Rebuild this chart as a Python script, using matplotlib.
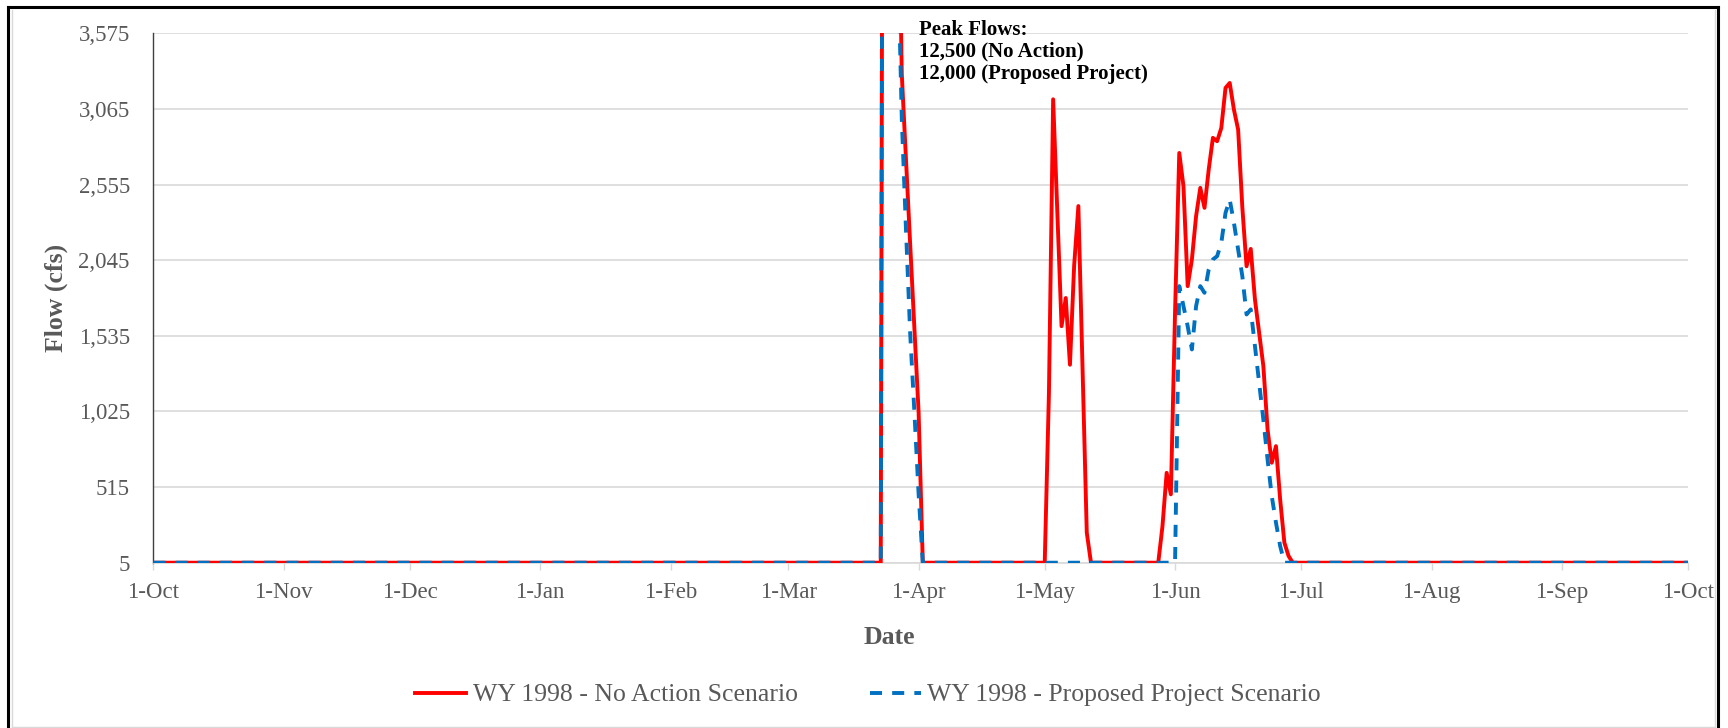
import numpy as np
import pandas as pd
import matplotlib
matplotlib.use('Agg')
import matplotlib.pyplot as plt
from matplotlib.lines import Line2D

# water year 1998, one value per day (1-Oct-1997 .. 1-Oct-1998)
dates = pd.date_range('1997-10-01', '1998-10-01', freq='D')
base_flow = 5

# storm in late March (both scenarios), values in cfs
march_start = '1998-03-23'
no_action_march = [5, 12500, 11000, 8000, 5000, 3300, 2720, 2150, 1590, 1021, 5]
proposed_march = [5, 12000, 10000, 7000, 4200, 3000, 2250, 1550, 1021, 470, 5]

# early May pulse (No Action only)
may_start = '1998-05-01'
no_action_may = [5, 1150, 3130, 2370, 1600, 1790, 1340, 2010, 2410, 1310, 208, 5]

# June snowmelt
june_start_na = '1998-05-28'
no_action_june = [5, 250, 611, 466, 1700, 2768, 2544, 1870, 2049, 2342, 2533, 2398,
                  2656, 2870, 2847, 2937, 3207, 3240, 3060, 2926, 2400, 2004, 2121,
                  1780, 1555, 1331, 904, 679, 791, 430, 140, 50, 5]
june_start_pp = '1998-06-01'
proposed_june = [5, 1870, 1735, 1600, 1443, 1735, 1870, 1825, 1982, 2050, 2072, 2162,
                 2364, 2454, 2297, 2117, 1937, 1679, 1713, 1465, 1218, 970, 701, 454,
                 275, 117, 5]

y_ticks = [5, 515, 1025, 1535, 2045, 2555, 3065, 3575]
month_ticks = pd.date_range('1997-10-01', '1998-10-01', freq='MS')
month_labels = ['1-Oct', '1-Nov', '1-Dec', '1-Jan', '1-Feb', '1-Mar', '1-Apr',
                '1-May', '1-Jun', '1-Jul', '1-Aug', '1-Sep', '1-Oct']


def build(events):
    s = pd.Series(float(base_flow), index=dates)
    for start, vals in events:
        idx = pd.date_range(start, periods=len(vals), freq='D')
        s[idx] = vals
    return s


no_action = build([(march_start, no_action_march), (may_start, no_action_may),
                   (june_start_na, no_action_june)])
proposed = build([(march_start, proposed_march), (june_start_pp, proposed_june)])

plt.rcParams['font.family'] = ['Liberation Serif', 'DejaVu Serif']
gray = '#595959'

W, H = 1728, 728
fig = plt.figure(figsize=(W / 100, H / 100), dpi=100)
ax = fig.add_axes([153.4 / W, 1 - 562.7 / H, (1688 - 153.4) / W, (562.7 - 33.3) / H])

ax.plot(no_action.index, no_action.values, color='#FF0000', lw=2.8,
        label='WY 1998 - No Action Scenario', zorder=3)
ax.plot(proposed.index, proposed.values, color='#0070C0', lw=2.8, dashes=(3.1, 2.6),
        label='WY 1998 - Proposed Project Scenario', zorder=4)

ax.set_xlim(dates[0], dates[-1])
ax.set_ylim(5, 3575)
ax.set_yticks(y_ticks)
ax.set_yticklabels([f'{v:,}' for v in y_ticks])
ax.set_xticks(month_ticks)
ax.set_xticklabels(month_labels)

ax.grid(axis='y', color='#D9D9D9', lw=1.2, zorder=0)
ax.set_axisbelow(True)
for s in ['top', 'right']:
    ax.spines[s].set_visible(False)
ax.spines['left'].set_color('#404040')
ax.spines['left'].set_linewidth(1.0)
ax.spines['bottom'].set_color('#D9D9D9')
ax.spines['bottom'].set_linewidth(1.2)

ax.tick_params(axis='y', length=0, pad=17, labelsize=16.5, labelcolor=gray)
ax.tick_params(axis='x', length=5, width=1, color='#D9D9D9', direction='out',
               pad=9, labelsize=16.5, labelcolor=gray)

fig.text(56 / W, 1 - 298 / H, 'Flow (cfs)', rotation=90, ha='center', va='center',
         fontsize=18.5, fontweight='bold', color=gray)
fig.text(889 / W, 1 - 638 / H, 'Date', ha='center', va='center',
         fontsize=18.5, fontweight='bold', color=gray)

ax.annotate('Peak Flows:\n12,500 (No Action)\n12,000 (Proposed Project)',
            xy=(pd.Timestamp('1998-04-01'), 1.025), xycoords=('data', 'axes fraction'),
            ha='left', va='top', fontsize=15, fontweight='bold', color='black',
            linespacing=1.12, annotation_clip=False)

leg = fig.legend(loc='center', bbox_to_anchor=(868 / W, 1 - 695 / H), ncol=2,
                 frameon=False, fontsize=18.5, handlelength=2.0, handletextpad=0.25,
                 columnspacing=2.8)
for t in leg.get_texts():
    t.set_color(gray)

# chart border
fig.add_artist(Line2D([8 / W, 8 / W], [0, 1 - 7 / H], color='black', lw=2.2))
fig.add_artist(Line2D([8 / W, 1718 / W], [1 - 7 / H, 1 - 7 / H], color='black', lw=2.2))
fig.add_artist(Line2D([1718 / W, 1718 / W], [0, 1 - 7 / H], color='black', lw=2.2))
fig.add_artist(Line2D([11.5 / W, 11.5 / W], [0, 1 - 10 / H], color='#D9D9D9', lw=1))
fig.add_artist(Line2D([1715 / W, 1715 / W], [0, 1 - 10 / H], color='#D9D9D9', lw=1))
fig.add_artist(Line2D([11.5 / W, 1715 / W], [1 / H, 1 / H], color='#D9D9D9', lw=1))

fig.savefig('out.png', dpi=100)
